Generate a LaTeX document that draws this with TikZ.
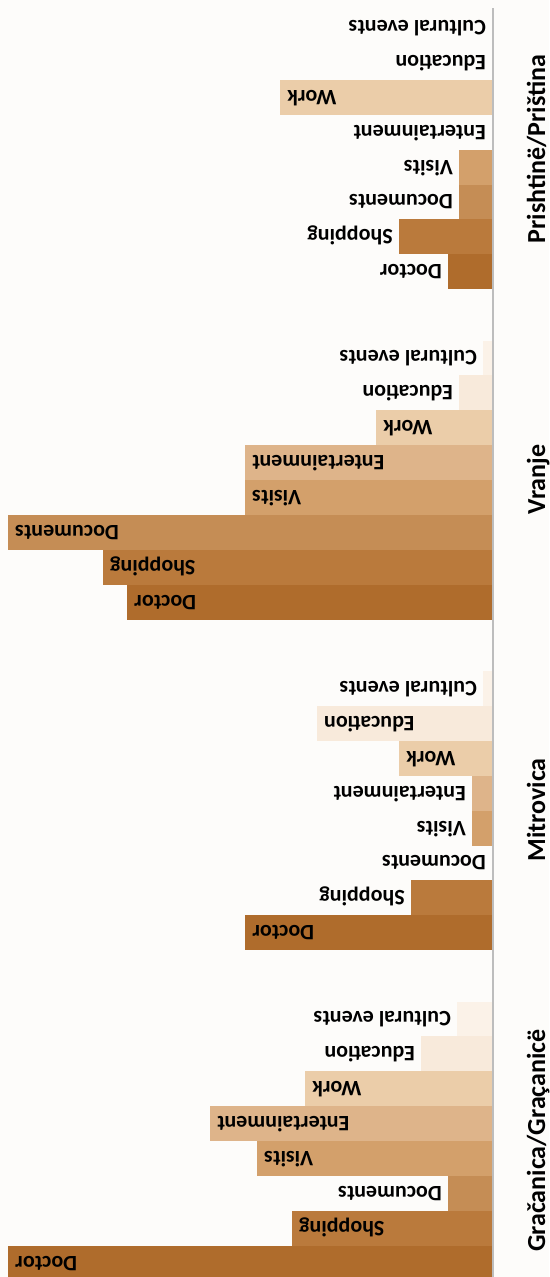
\documentclass[tikz,border=0pt]{standalone}
\usepackage{fontspec}
\setmainfont{Carlito}
\definecolor{bgC}{HTML}{FDFCFA}
\definecolor{axisC}{HTML}{BDBDBD}
\definecolor{doctorC}{HTML}{AF6C2C}
\definecolor{shopC}{HTML}{BA7A3C}
\definecolor{docuC}{HTML}{C58D55}
\definecolor{visC}{HTML}{D3A06B}
\definecolor{entC}{HTML}{DEB48A}
\definecolor{workC}{HTML}{EBCDA9}
\definecolor{eduC}{HTML}{F8EADB}
\definecolor{cultC}{HTML}{FBF2E8}
\tikzset{
  barlabel/.style={inner sep=0pt,font=\bfseries\fontsize{22}{22}\selectfont,rotate=180},
  grouplabel/.style={inner sep=0pt,font=\bfseries\fontsize{26}{26}\selectfont,rotate=90,anchor=base},
}

\begin{document}
\begin{tikzpicture}[x=1pt,y=-1pt]
  \fill[bgC] (0,0) rectangle (549,1277);
  \useasboundingbox (0,0) rectangle (549,1277);
  % one row per purpose, lengths for the four towns
  \foreach \lab/\col/\w/\a/\b/\c/\d [count=\i from 0] in {
      Cultural events/cultC/137/0/9/9/35,
      Education/eduC/88/0/33/175/71,
      Work/workC/49/212/116/93/187,
      Entertainment/entC/133/0/247/20/282,
      Visits/visC/48/33/247/20/235,
      Documents/docuC/102/33/484/0/44,
      Shopping/shopC/83/93/389/81/200,
      Doctor/doctorC/60/44/365/247/484}
  {
    \foreach \len [count=\g from 0] in {\a,\b,\c,\d} {
      \pgfmathsetmacro{\yt}{10+330.5*\g+34.9*\i}
      \pgfmathtruncatemacro{\inside}{\len>\w+14}
      \fill[\col] (492-\len,\yt) rectangle (492,\yt+34.9);
      \ifnum\inside=1
        \node[barlabel,anchor=base east] (lab-\g-\i) at (492-\len+7,\yt+10.4) {\lab};
      \else
        \node[barlabel,anchor=base west] (lab-\g-\i) at (492-\len-6,\yt+10.4) {\lab};
      \fi
    }
  }
  \draw[axisC,line width=1.5pt] (493,8) -- (493,1277);
  \foreach \gname [count=\g from 0] in {{Prishtinë/Priština},Vranje,Mitrovica,{Gračanica/Graçanicë}}
    \node[grouplabel] (grp-\g) at (545,149+330.5*\g) {\gname};
\end{tikzpicture}
\end{document}
